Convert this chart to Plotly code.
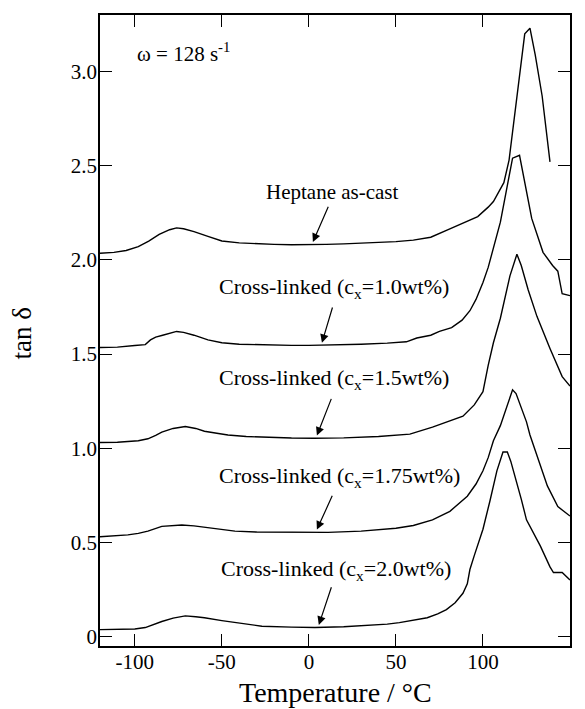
import plotly.graph_objects as go

# tan(delta) vs temperature, omega = 128 s^-1 (curves offset vertically by 0.5)
T_hep = [-120, -112, -105, -98, -92, -86, -80, -76, -72, -66, -58, -50, -40, -30, -20, -10, 0,
         10, 20, 30, 40, 50, 60, 70, 80, 90, 97, 103, 106, 109, 112, 115, 118.4, 121, 124, 127,
         130, 134, 138.5]
v_hep = [2.035, 2.04, 2.05, 2.07, 2.10, 2.135, 2.16, 2.17, 2.165, 2.15, 2.125, 2.10, 2.09, 2.085,
         2.082, 2.08, 2.08, 2.082, 2.085, 2.088, 2.092, 2.097, 2.105, 2.12, 2.16, 2.20, 2.23, 2.28,
         2.31, 2.36, 2.41, 2.53, 2.78, 2.98, 3.20, 3.23, 3.09, 2.87, 2.52]

T_10 = [-120, -110, -100, -94, -91, -88, -84, -80, -76, -72, -66, -58, -50, -40, -27, -10, 0, 15,
        30, 45, 56, 62, 70, 75, 82, 88, 92.5, 96, 100, 103, 106, 110, 113.5, 117, 121, 124, 128,
        134.5, 140, 143, 145.5, 150]
v_10 = [1.535, 1.537, 1.545, 1.55, 1.575, 1.59, 1.60, 1.61, 1.62, 1.615, 1.60, 1.575, 1.56, 1.552,
        1.548, 1.546, 1.546, 1.548, 1.552, 1.558, 1.565, 1.585, 1.60, 1.62, 1.64, 1.68, 1.73, 1.79,
        1.88, 1.96, 2.06, 2.20, 2.37, 2.54, 2.555, 2.415, 2.22, 2.04, 1.97, 1.94, 1.82, 1.81]

T_15 = [-120, -110, -98, -92.5, -88, -84.5, -78, -71, -65, -60, -52, -46.5, -36, -27, -10, 3, 20,
        40, 58, 71, 80, 88.5, 95, 100, 103, 106, 110, 115.5, 119.5, 122, 126, 131, 138.5, 145.5, 150]
v_15 = [1.03, 1.032, 1.04, 1.05, 1.068, 1.085, 1.105, 1.115, 1.105, 1.09, 1.078, 1.07, 1.062, 1.058,
        1.054, 1.053, 1.055, 1.062, 1.075, 1.112, 1.14, 1.17, 1.23, 1.30, 1.44, 1.56, 1.69, 1.915,
        2.03, 1.97, 1.84, 1.70, 1.53, 1.38, 1.33]

T_175 = [-120, -110, -104, -98, -92.5, -84.5, -78, -73, -66, -60, -50, -42.5, -30, -15.5, 0, 11, 30,
         50, 60, 71, 81, 91, 96, 100, 103, 106, 110, 113.5, 117, 119, 121, 125, 127, 131, 137, 143, 150]
v_175 = [0.53, 0.535, 0.54, 0.548, 0.56, 0.585, 0.59, 0.592, 0.588, 0.58, 0.568, 0.56, 0.555, 0.553,
         0.552, 0.553, 0.56, 0.575, 0.59, 0.62, 0.665, 0.745, 0.81, 0.88, 0.95, 1.04, 1.12, 1.22,
         1.31, 1.29, 1.24, 1.14, 1.07, 0.96, 0.80, 0.69, 0.64]

T_20 = [-120, -110, -100, -94, -88, -84.5, -78, -71, -65, -60, -50, -42.5, -35, -27, -10, 3.4, 20,
        33, 45, 52, 60, 68, 74, 79, 84, 88.5, 91, 92.5, 95, 98, 100, 104, 106, 108, 111.5, 114, 116,
        118.5, 122, 125, 129, 133, 138.5, 140.5, 145.5, 150]
v_20 = [0.037, 0.037, 0.04, 0.048, 0.07, 0.08, 0.098, 0.11, 0.105, 0.10, 0.085, 0.074, 0.064, 0.055,
        0.05, 0.048, 0.052, 0.058, 0.066, 0.074, 0.085, 0.10, 0.12, 0.143, 0.18, 0.23, 0.28, 0.356,
        0.43, 0.516, 0.57, 0.72, 0.80, 0.88, 0.98, 0.98, 0.93, 0.85, 0.73, 0.62, 0.55, 0.48, 0.37,
        0.34, 0.34, 0.30]

x_ticks = [-100, -50, 0, 50, 100, 150]
x_ticktext = ["-100", "-50", "0", "50", "100", "150"]
y_ticks = [0, 0.5, 1.0, 1.5, 2.0, 2.5, 3.0]
y_ticktext = ["0", "0.5", "1.0", "1.5", "2.0", "2.5", "3.0"]

# label text, text centre (T, tan d), arrow tail (T, tan d), arrow head (T, tan d)
labels = [
    ("Heptane as-cast", (13.8, 2.36), (11.5, 2.29), (2.3, 2.095)),
    ("Cross-linked (c<sub>x</sub>=1.0wt%)", (14.7, 1.85), (13.8, 1.755), (7.5, 1.56)),
    ("Cross-linked (c<sub>x</sub>=1.5wt%)", (14.7, 1.365), (13.2, 1.27), (4.6, 1.067)),
    ("Cross-linked (c<sub>x</sub>=1.75wt%)", (17.8, 0.845), (13.8, 0.755), (4.6, 0.568)),
    ("Cross-linked (c<sub>x</sub>=2.0wt%)", (15.5, 0.355), (13.2, 0.27), (5.7, 0.062)),
]

FONT = "Liberation Serif"
fig = go.Figure()
for T, v in [(T_hep, v_hep), (T_10, v_10), (T_15, v_15), (T_175, v_175), (T_20, v_20)]:
    fig.add_trace(go.Scatter(x=T, y=v, mode="lines", line=dict(color="black", width=1.4),
                             showlegend=False, hoverinfo="skip"))

ann = []
for i, (text, (tx, ty), (ax, ay), (hx, hy)) in enumerate(labels):
    size = 21 if i == 0 else 22
    ann.append(dict(x=tx, y=ty, xref="x", yref="y", text=text, showarrow=False,
                    xanchor="center", yanchor="middle", font=dict(family=FONT, size=size, color="black")))
    ann.append(dict(x=hx, y=hy, ax=ax, ay=ay, xref="x", yref="y", axref="x", ayref="y", text="",
                    showarrow=True, arrowhead=2, arrowsize=1.4, arrowwidth=1.2, arrowcolor="black"))

ann.append(dict(x=-100, y=3.1, xref="x", yref="y", text="ω = 128 s<sup>-1</sup>", showarrow=False,
                xanchor="left", yanchor="middle", font=dict(family=FONT, size=21, color="black")))
ann.append(dict(x=0.5, y=-0.074, xref="paper", yref="paper", text="Temperature / °C", showarrow=False,
                xanchor="center", yanchor="middle", font=dict(family=FONT, size=28, color="black")))
ann.append(dict(x=-0.165, y=0.496, xref="paper", yref="paper", text="tan δ", showarrow=False,
                textangle=-90, xanchor="center", yanchor="middle",
                font=dict(family=FONT, size=27, color="black")))

axis_common = dict(showline=True, linecolor="black", linewidth=1.8, mirror="ticks", ticks="inside",
                   ticklen=12, tickwidth=1.4, tickcolor="black", showgrid=False, zeroline=False,
                   tickfont=dict(family=FONT, size=21, color="black"))

fig.update_layout(
    width=585, height=709,
    margin=dict(l=100, r=15, t=15, b=63),
    plot_bgcolor="white", paper_bgcolor="white",
    xaxis=dict(range=[-120, 150], tickvals=x_ticks, ticktext=x_ticktext, ticklabelstandoff=-4,
               **axis_common),
    yaxis=dict(range=[-0.05, 3.3], tickvals=y_ticks, ticktext=y_ticktext, ticklabelstandoff=-3,
               **axis_common),
    annotations=ann,
)

fig.write_html("out.html")
